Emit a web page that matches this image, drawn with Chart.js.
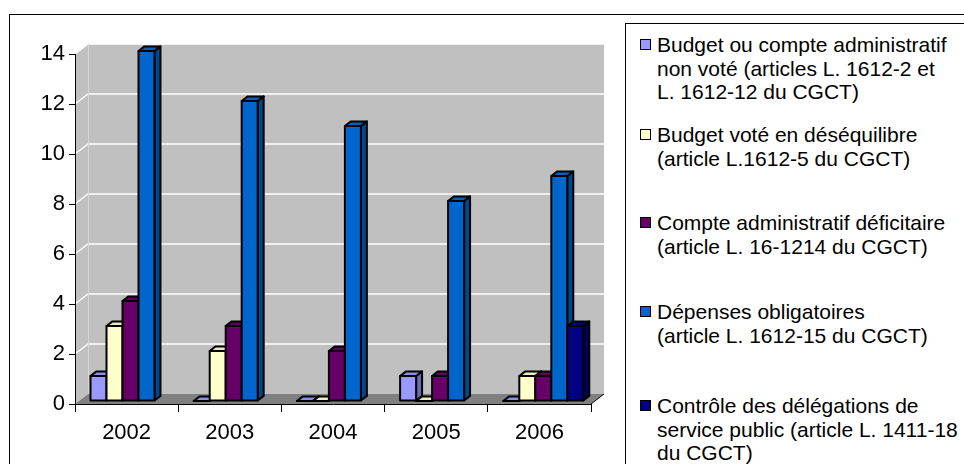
<!DOCTYPE html>
<html>
<head>
<meta charset="utf-8">
<script src="https://cdn.jsdelivr.net/npm/chart.js@4.4.1/dist/chart.umd.min.js"></script>
<style>
  html, body { margin: 0; padding: 0; background: #fff; }
  #wrap { position: relative; width: 964px; height: 464px; overflow: hidden; font-family: "Liberation Sans", Arial, sans-serif; }
  #frame { position: absolute; left: 9px; top: 14px; width: 1000px; height: 500px; border: 1px solid #000; }
  #chart { position: absolute; left: 0; top: 0; }
  #legend { position: absolute; left: 625px; top: 23px; width: 400px; height: 500px; border: 1px solid #000; background: #fff; }
  .item { position: absolute; left: 14px; font-size: 21px; line-height: 23.5px; color: #000; white-space: nowrap; }
  .item .sq { position: absolute; left: 0; top: 6px; width: 9px; height: 9px; border: 1px solid #000; }
  .item .txt { margin-left: 17px; }
</style>
</head>
<body>
<div id="wrap">
  <div id="frame"></div>
  <canvas id="chart" width="964" height="464"></canvas>
  <div id="legend"></div>
</div>
<script>
const YEARS = ['2002', '2003', '2004', '2005', '2006'];

const NON_VOTE = [1, 0, 0, 1, 0];
const DESEQUILIBRE = [3, 2, 0, 0, 1];
const DEFICITAIRE = [4, 3, 2, 1, 1];
const DEPENSES = [14, 12, 11, 8, 9];
const DELEGATIONS = [null, null, null, null, 3];

const SERIES_LABELS = [
    ['Budget ou compte administratif', 'non voté (articles L. 1612-2 et', 'L. 1612-12 du CGCT)'],
    ['Budget voté en déséquilibre', '(article L.1612-5 du CGCT)'],
    ['Compte administratif déficitaire', '(article L. 16-1214 du CGCT)'],
    ['Dépenses obligatoires', '(article L. 1612-15 du CGCT)'],
    ['Contrôle des délégations de', 'service public (article L. 1411-18', 'du CGCT)']
];
const COLORS = ['#9999FF', '#FFFFCC', '#660066', '#0066CC', '#000080'];

// depth of the 3d box and where the bars sit inside it
const DX = 13, DY = 10;
const BAR_FRONT = 0.3, BAR_BACK = 0.76;

function shade(hex, f) {
    const n = parseInt(hex.slice(1), 16);
    const r = Math.round(((n >> 16) & 255) * f);
    const g = Math.round(((n >> 8) & 255) * f);
    const b = Math.round((n & 255) * f);
    return 'rgb(' + r + ',' + g + ',' + b + ')';
}

function poly(ctx, pts, fill, stroke, lw) {
    ctx.beginPath();
    ctx.moveTo(pts[0][0], pts[0][1]);
    for (let i = 1; i < pts.length; i++) ctx.lineTo(pts[i][0], pts[i][1]);
    ctx.closePath();
    if (fill) { ctx.fillStyle = fill; ctx.fill(); }
    if (stroke) { ctx.strokeStyle = stroke; ctx.lineWidth = lw; ctx.stroke(); }
}

const wallsPlugin = {
    id: 'walls',
    beforeDraw(chart) {
        const ctx = chart.ctx;
        const a = chart.chartArea;
        const y = chart.scales.y;
        ctx.save();
        // side wall + back wall
        poly(ctx, [[a.left, a.bottom], [a.left, a.top], [a.left + DX, a.top - DY], [a.left + DX, a.bottom - DY]], '#C0C0C0');
        poly(ctx, [[a.left + DX, a.top - DY], [a.right + DX, a.top - DY], [a.right + DX, a.bottom - DY], [a.left + DX, a.bottom - DY]], '#C0C0C0');
        ctx.strokeStyle = '#FFFFFF';
        ctx.lineWidth = 1.3;
        for (const t of y.ticks) {
            if (t.value === 0) continue;
            const py = y.getPixelForValue(t.value);
            ctx.beginPath();
            ctx.moveTo(a.left, py);
            ctx.lineTo(a.left + DX, py - DY);
            ctx.lineTo(a.right + DX, py - DY);
            ctx.stroke();
        }
        ctx.strokeStyle = '#D6D6D6';
        ctx.lineWidth = 1;
        ctx.beginPath();
        ctx.moveTo(a.left + DX + 0.5, a.top - DY);
        ctx.lineTo(a.left + DX + 0.5, a.bottom - DY);
        ctx.stroke();
        // floor
        poly(ctx, [[a.left, a.bottom], [a.left + DX, a.bottom - DY], [a.right + DX, a.bottom - DY], [a.right, a.bottom]], '#808080');
        ctx.strokeStyle = '#000';
        ctx.lineWidth = 1;
        ctx.beginPath();
        ctx.moveTo(a.right, a.bottom);
        ctx.lineTo(a.right + DX, a.bottom - DY);
        ctx.stroke();
        ctx.restore();
    },
    beforeDatasetDraw() {
        return false;
    },
    afterDatasetsDraw(chart) {
        const ctx = chart.ctx;
        const fx = DX * BAR_FRONT, fy = DY * BAR_FRONT;
        const bx = DX * (BAR_BACK - BAR_FRONT), by = DY * (BAR_BACK - BAR_FRONT);
        ctx.save();
        ctx.lineJoin = 'round';
        const n = chart.data.labels.length;
        for (let j = 0; j < n; j++) {
            chart.data.datasets.forEach((ds, k) => {
                if (ds.data[j] === null) return;
                const el = chart.getDatasetMeta(k).data[j];
                const p = el.getProps(['x', 'y', 'base', 'width'], true);
                const left = p.x - p.width / 2 + fx;
                const right = left + p.width;
                const top = p.y - fy;
                const bottom = p.base - fy;
                const c = ds.backgroundColor;
                poly(ctx, [[right, bottom], [right, top], [right + bx, top - by], [right + bx, bottom - by]], shade(c, 0.7), '#000', 2);
                poly(ctx, [[left, top], [right, top], [right + bx, top - by], [left + bx, top - by]], shade(c, 0.92), '#000', 2);
                poly(ctx, [[left, bottom], [left, top], [right, top], [right, bottom]], c, '#000', 2);
            });
        }
        ctx.restore();
    }
};

const datasets = [NON_VOTE, DESEQUILIBRE, DEFICITAIRE, DEPENSES, DELEGATIONS].map((vals, i) => ({
    label: SERIES_LABELS[i].join(' '),
    data: vals,
    backgroundColor: COLORS[i],
    borderColor: '#000',
    borderWidth: 2,
    categoryPercentage: 0.775,
    barPercentage: 1
}));

Chart.defaults.font.family = '"Liberation Sans", Arial, sans-serif';

new Chart(document.getElementById('chart'), {
    type: 'bar',
    data: { labels: YEARS, datasets: datasets },
    options: {
        responsive: false,
        animation: false,
        events: [],
        layout: { padding: { left: 0, top: 54, right: 373, bottom: 0 } },
        plugins: { legend: { display: false }, tooltip: { enabled: false } },
        scales: {
            x: {
                grid: { drawOnChartArea: false, drawTicks: true, tickLength: 8, color: '#000', offset: true },
                border: { display: true, color: '#000', width: 1 },
                ticks: { color: '#000', font: { size: 22 }, padding: 8 },
                afterFit(s) { s.height = 60; }
            },
            y: {
                min: 0,
                max: 14,
                ticks: { stepSize: 2, color: '#000', font: { size: 22 }, padding: 4 },
                grid: { drawOnChartArea: false, drawTicks: true, tickLength: 6, color: '#000' },
                border: { display: true, color: '#000', width: 1 },
                afterFit(s) { s.width = 75; }
            }
        }
    },
    plugins: [wallsPlugin]
});

// legend box on the right, items spread evenly like the original
const legendEl = document.getElementById('legend');
const ITEM_TOPS = [9, 99, 187, 276, 370];
SERIES_LABELS.forEach((lines, i) => {
    const item = document.createElement('div');
    item.className = 'item';
    item.style.top = ITEM_TOPS[i] + 'px';
    const sq = document.createElement('div');
    sq.className = 'sq';
    sq.style.background = COLORS[i];
    const txt = document.createElement('div');
    txt.className = 'txt';
    txt.innerHTML = lines.join('<br>');
    item.appendChild(sq);
    item.appendChild(txt);
    legendEl.appendChild(item);
});
</script>
</body>
</html>
